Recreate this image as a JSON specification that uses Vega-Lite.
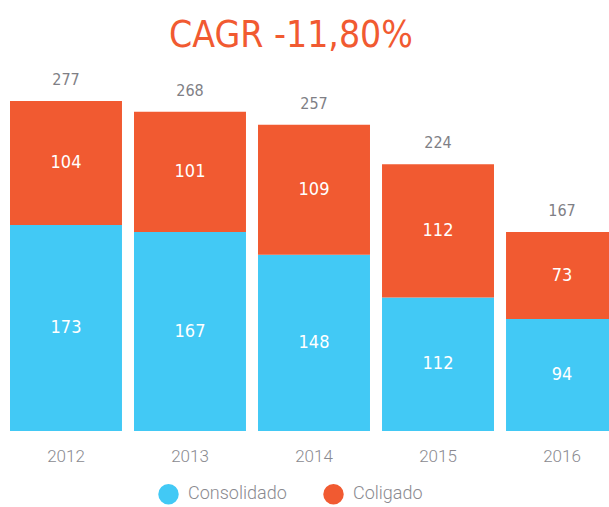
{
  "$schema": "https://vega.github.io/schema/vega-lite/v6.json",
  "autosize": "none",
  "width": 608,
  "height": 357.4,
  "padding": {"left": 10, "top": 73.6, "right": 0, "bottom": 76},
  "background": "white",
  "config": {"view": {"stroke": null}},
  "title": {
    "text": "CAGR -11,80%",
    "font": "DejaVu Sans Condensed, Roboto",
    "fontSize": 37,
    "fontWeight": "normal",
    "color": "#F15A31",
    "anchor": "middle",
    "dx": -23,
    "offset": 17
  },
  "datasets": {
    "segs": [
      {"year": "2012", "serie": "Consolidado", "value": 173, "ord": 1},
      {"year": "2012", "serie": "Coligado", "value": 104, "ord": 2},
      {"year": "2013", "serie": "Consolidado", "value": 167, "ord": 1},
      {"year": "2013", "serie": "Coligado", "value": 101, "ord": 2},
      {"year": "2014", "serie": "Consolidado", "value": 148, "ord": 1},
      {"year": "2014", "serie": "Coligado", "value": 109, "ord": 2},
      {"year": "2015", "serie": "Consolidado", "value": 112, "ord": 1},
      {"year": "2015", "serie": "Coligado", "value": 112, "ord": 2},
      {"year": "2016", "serie": "Consolidado", "value": 94, "ord": 1},
      {"year": "2016", "serie": "Coligado", "value": 73, "ord": 2}
    ],
    "totals": [
      {"year": "2012", "total": 277},
      {"year": "2013", "total": 268},
      {"year": "2014", "total": 257},
      {"year": "2015", "total": 224},
      {"year": "2016", "total": 167}
    ]
  },
  "encoding": {
    "x": {
      "field": "year",
      "type": "nominal",
      "scale": {"paddingInner": 0.097, "paddingOuter": 0},
      "axis": {
        "title": null,
        "domain": false,
        "ticks": false,
        "labelAngle": 0,
        "labelFont": "Roboto",
        "labelFontWeight": 300,
        "labelFontSize": 17,
        "labelColor": "#8a8a90",
        "labelPadding": 17
      }
    }
  },
  "layer": [
    {
      "data": {"name": "segs"},
      "transform": [
        {"stack": "value", "groupby": ["year"], "sort": [{"field": "ord"}], "as": ["v0", "v1"]}
      ],
      "mark": {"type": "bar"},
      "encoding": {
        "y": {"field": "v0", "type": "quantitative", "scale": {"domain": [0, 300]}, "axis": null},
        "y2": {"field": "v1"},
        "color": {
          "field": "serie",
          "type": "nominal",
          "scale": {"domain": ["Consolidado", "Coligado"], "range": ["#42C9F5", "#F15A31"]},
          "legend": {
            "title": null,
            "orient": "none",
            "direction": "horizontal",
            "legendX": 148,
            "legendY": 410,
            "symbolType": "circle",
            "symbolSize": 420,
            "symbolStrokeWidth": 0,
            "labelFont": "Roboto",
            "labelFontWeight": 300,
            "labelFontSize": 18,
            "labelColor": "#8a8a90",
            "columnPadding": 36,
            "labelOffset": 9
          }
        }
      }
    },
    {
      "data": {"name": "segs"},
      "transform": [
        {"stack": "value", "groupby": ["year"], "sort": [{"field": "ord"}], "as": ["v0", "v1"]},
        {"calculate": "(datum.v0 + datum.v1) / 2", "as": "mid"}
      ],
      "mark": {"type": "text", "font": "DejaVu Sans Condensed, Roboto", "fontSize": 18, "color": "white", "baseline": "middle"},
      "encoding": {
        "y": {"field": "mid", "type": "quantitative"},
        "text": {"field": "value", "type": "quantitative"}
      }
    },
    {
      "data": {"name": "totals"},
      "mark": {"type": "text", "font": "DejaVu Sans Condensed, Roboto", "fontSize": 16, "color": "#7f7f86", "baseline": "middle", "dy": -21},
      "encoding": {
        "y": {"field": "total", "type": "quantitative"},
        "text": {"field": "total", "type": "quantitative"}
      }
    }
  ]
}
